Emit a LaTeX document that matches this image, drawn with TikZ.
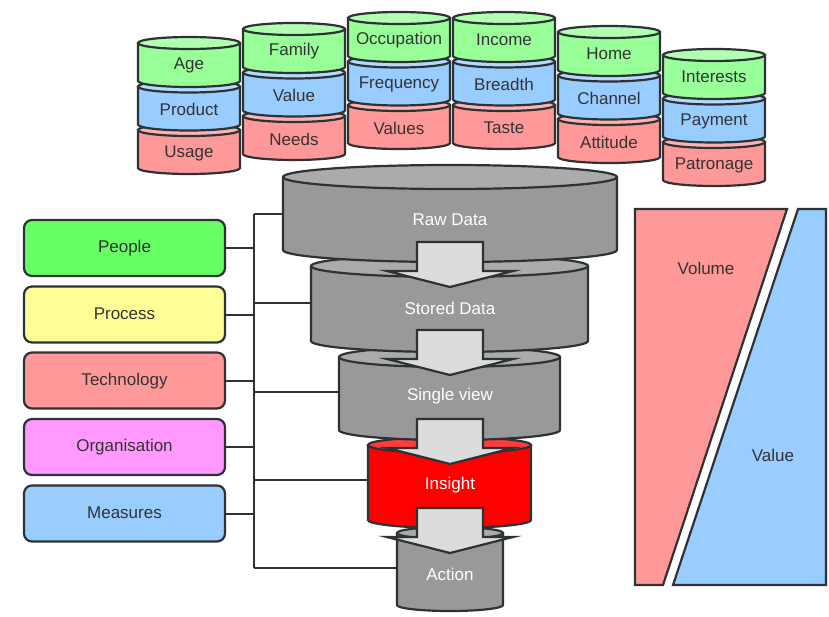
\documentclass[tikz,border=0pt]{standalone}
\usepackage{fontspec}
\setmainfont{Liberation Sans}
\definecolor{outline}{RGB}{45,50,52}
\definecolor{ink}{RGB}{51,51,51}
\definecolor{grnbody}{HTML}{99FF99}
\definecolor{grntop}{HTML}{B2FFB2}
\definecolor{blubody}{HTML}{99CCFF}
\definecolor{blutop}{HTML}{B5DAFF}
\definecolor{redbody}{HTML}{FF9999}
\definecolor{redtop}{HTML}{FFB2B2}
\definecolor{graybody}{HTML}{999999}
\definecolor{graytop}{HTML}{ABABAB}
\definecolor{insbody}{HTML}{FF0000}
\definecolor{instop}{HTML}{FF3C3C}
\definecolor{arrowfill}{HTML}{DCDCDC}
\definecolor{peoplefill}{HTML}{66FF66}
\definecolor{processfill}{HTML}{FFFF99}
\definecolor{techfill}{HTML}{FF9999}
\definecolor{orgfill}{HTML}{FF99FF}
\definecolor{measfill}{HTML}{99CCFF}

% cylinder: centre x, top y, bottom y, x radius, y radius, body colour, lid colour
\newcommand\drum[7]{%
  \pgfmathsetmacro\drumL{#1-#4}%
  \pgfmathsetmacro\drumR{#1+#4}%
  \pgfmathsetmacro\drumT{-(#2)}%
  \pgfmathsetmacro\drumB{-(#3)}%
  \fill[#6] (\drumL,\drumT) -- (\drumL,\drumB)
    arc[start angle=180,end angle=360,x radius=#4,y radius=#5] -- (\drumR,\drumT) -- cycle;
  \draw[edge] (\drumL,\drumT) -- (\drumL,\drumB)
    arc[start angle=180,end angle=360,x radius=#4,y radius=#5] -- (\drumR,\drumT);
  \filldraw[edge,fill=#7] (#1,\drumT) ellipse[x radius=#4,y radius=#5];
}
% three stacked segment drums: centre x, top y, green/blue/red labels, name prefix
\newcommand\segstack[6]{%
  \drum{#1}{#2+87}{#2+125}{51}{6}{redbody}{redtop}
  \drum{#1}{#2+43.5}{#2+81.5}{51}{6}{blubody}{blutop}
  \drum{#1}{#2}{#2+38}{51}{6}{grnbody}{grntop}
  \node[seglbl] (#6g) at (#1,-#2-22) {#3};
  \node[seglbl] (#6b) at (#1,-#2-66) {#4};
  \node[seglbl] (#6r) at (#1,-#2-110) {#5};
}
% block arrow pointing down: top y of shaft
\newcommand\flowarrow[1]{%
  \filldraw[edge,fill=arrowfill,line join=miter]
    (417,-#1) -- (483,-#1) -- (483,-#1-29) -- (513,-#1-29) -- (450,-#1-45)
    -- (387,-#1-29) -- (417,-#1-29) -- cycle;
}

\begin{document}
\begin{tikzpicture}[x=1pt,y=1pt,
  edge/.style={draw=outline,line width=2.2pt},
  seglbl/.style={text=ink,font=\fontsize{17}{20}\selectfont,inner sep=0pt},
  stagelbl/.style={text=white,font=\fontsize{17}{20}\selectfont,inner sep=0pt},
  factor/.style={edge,rounded corners=8pt,minimum width=201pt,minimum height=56pt,
    text=ink,font=\fontsize{17}{20}\selectfont,inner sep=0pt,
    text height=12pt,text depth=3pt},
  link/.style={draw=outline,line width=2pt}]
\useasboundingbox (0,0) rectangle (829,-616);

% customer data segments
\segstack{189}{43}{Age}{Product}{Usage}{c1}
\segstack{294}{29}{Family}{Value}{Needs}{c2}
\segstack{399}{18}{Occupation}{Frequency}{Values}{c3}
\segstack{504}{18}{Income}{Breadth}{Taste}{c4}
\segstack{609}{32}{Home}{Channel}{Attitude}{c5}
\segstack{714}{55}{Interests}{Payment}{Patronage}{c6}

% data funnel, lowest stage first
\drum{450}{533}{605}{53}{6}{graybody}{graytop}
\drum{449.5}{445}{520}{81.5}{8}{insbody}{instop}
\drum{449.5}{357}{430}{110.5}{10}{graybody}{graytop}
\drum{449.5}{266}{341}{138.5}{11}{graybody}{graytop}
\drum{450}{177}{250}{167}{12}{graybody}{graytop}

\flowarrow{242}
\flowarrow{330}
\flowarrow{419}
\flowarrow{508}

\node[stagelbl] (raw) at (450,-220) {Raw Data};
\node[stagelbl] (stored) at (450,-308) {Stored Data};
\node[stagelbl] (single) at (450,-396) {Single view};
\node[stagelbl] (insight) at (450,-485) {Insight};
\node[stagelbl] (action) at (450,-574) {Action};

\coordinate (rawL) at (283,-214);
\coordinate (storedL) at (311,-303);
\coordinate (singleL) at (339,-392);
\coordinate (insightL) at (368,-480);
\coordinate (actionL) at (397,-568);

% enabling factors
\node[factor,fill=peoplefill] (people) at (124.5,-248) {People};
\node[factor,fill=processfill] (process) at (124.5,-314.5) {Process};
\node[factor,fill=techfill] (tech) at (124.5,-380.5) {Technology};
\node[factor,fill=orgfill] (org) at (124.5,-447) {Organisation};
\node[factor,fill=measfill] (meas) at (124.5,-513.5) {Measures};

% bus joining factors to funnel stages
\coordinate (busTop) at (254,-214);
\coordinate (busBot) at (254,-568);
\draw[link] (busTop) -- (busBot);
\draw[link] (busTop) -- (rawL);
\draw[link] (254,-303) -- (storedL);
\draw[link] (254,-392) -- (singleL);
\draw[link] (254,-480) -- (insightL);
\draw[link] (busBot) -- (actionL);
\foreach \f in {people,process,tech,org,meas}
  \draw[link] (\f.east) -- (254,0 |- \f.east);

% volume / value split
\filldraw[edge,fill=redbody,line join=miter]
  (635,-209) -- (787,-209) -- (663,-585) -- (635,-585) -- cycle;
\filldraw[edge,fill=blubody,line join=miter]
  (798,-209) -- (826,-209) -- (826,-585) -- (673,-585) -- cycle;
\node[seglbl] (volume) at (706,-268) {Volume};
\node[seglbl] (value) at (773,-455) {Value};
\end{tikzpicture}
\end{document}
